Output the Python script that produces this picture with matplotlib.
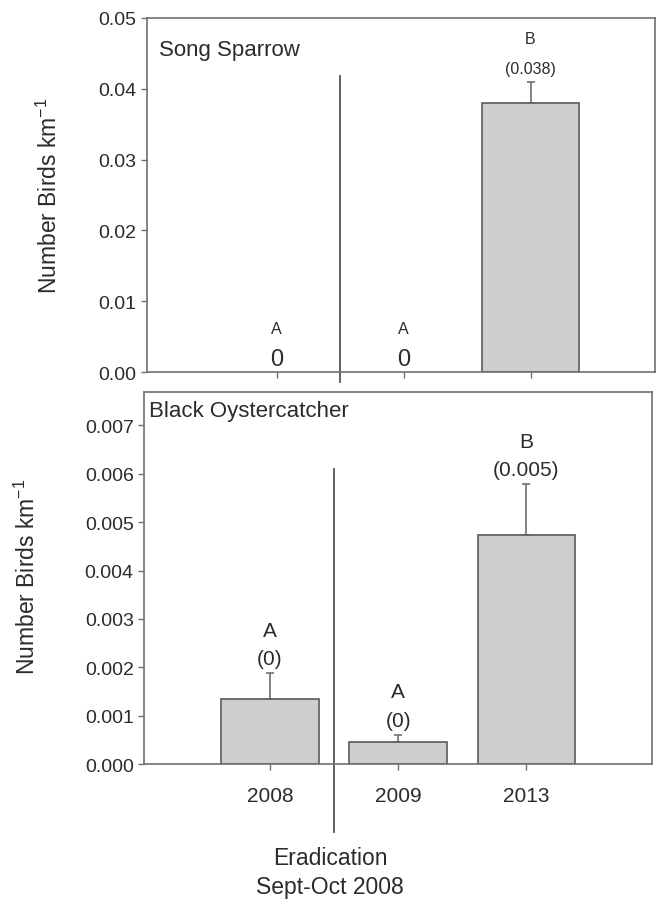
import numpy as np
import matplotlib
matplotlib.use("Agg")
import matplotlib.pyplot as plt
import matplotlib.transforms as mtransforms

plt.rcParams['font.family'] = ['Liberation Sans', 'DejaVu Sans']

# Datos
anios = ["2008", "2009", "2013"]

sparrow_media = [0.0, 0.0, 0.038]
sparrow_err = [0.0, 0.0, 0.003]
sparrow_letras = ["A", "A", "B"]
sparrow_etiquetas = ["0", "0", "(0.038)"]

oyster_media = [0.00134, 0.00045, 0.00473]
oyster_err = [0.00054, 0.00015, 0.00105]
oyster_letras = ["A", "A", "B"]
oyster_etiquetas = ["(0)", "(0)", "(0.005)"]

sparrow_ticks = [0.00, 0.01, 0.02, 0.03, 0.04, 0.05]
oyster_ticks = [0.000, 0.001, 0.002, 0.003, 0.004, 0.005, 0.006, 0.007]

gris_barra = "#cfcfcf"
gris_borde = "#5a5a5a"
gris_linea = "#707070"
texto = "#2b2b2b"
etiqueta_y = "Number Birds km$^{\\mathregular{-1}}$"

fig = plt.figure(figsize=(6.58, 9.03), dpi=100)
ax1 = fig.add_axes([0.2234, 0.5869, 0.772, 0.3921])
ax2 = fig.add_axes([0.2190, 0.1528, 0.772, 0.4120])

x = np.arange(len(anios))


def estilo(ax):
    for s in ax.spines.values():
        s.set_color(gris_linea)
        s.set_linewidth(1.2)
    ax.tick_params(axis='both', colors=gris_linea, labelcolor=texto,
                   direction='out', length=4, width=1)


# --- Song Sparrow ---
# las barras con valor 0 no se dibujan (sin borde)
anchos_borde = [1.2 if v > 0 else 0 for v in sparrow_media]
ax1.bar(x, sparrow_media, width=0.76, color=gris_barra, edgecolor=gris_borde,
        linewidth=anchos_borde, zorder=2)
ax1.errorbar(x[2], sparrow_media[2], yerr=[[0], [sparrow_err[2]]], fmt='none',
             ecolor=gris_linea, elinewidth=1.2, capsize=3, capthick=1.2, zorder=1)
ax1.set_xlim(-1.02, 2.98)
ax1.set_ylim(0, 0.05)
ax1.set_yticks(sparrow_ticks)
ax1.set_yticklabels([f"{t:.2f}" for t in sparrow_ticks], fontsize=14)
ax1.set_xticks(x)
ax1.set_xticklabels([])
estilo(ax1)
ax1.set_ylabel(etiqueta_y, fontsize=16.5, color=texto)
ax1.yaxis.set_label_coords(-0.167, 0.5)
ax1.text(0.024, 0.912, "Song Sparrow", transform=ax1.transAxes, fontsize=16,
         color=texto, ha='left', va='center')
for i in range(len(anios)):
    tope = sparrow_media[i] + sparrow_err[i]
    grande = sparrow_etiquetas[i] == "0"
    ax1.annotate(sparrow_etiquetas[i], (x[i], tope), xytext=(0, 9.5),
                 textcoords='offset points', ha='center', va='center',
                 fontsize=17 if grande else 11.5, color=texto)
    ax1.annotate(sparrow_letras[i], (x[i], tope), xytext=(0, 31),
                 textcoords='offset points', ha='center', va='center',
                 fontsize=11.5, color=texto)
ax1.axvline(0.5, ymin=-0.028, ymax=0.836, color="#555555", lw=1.3, clip_on=False)

# --- Black Oystercatcher ---
ax2.bar(x, oyster_media, width=0.76, color=gris_barra, edgecolor=gris_borde,
        linewidth=1.2, zorder=2)
ax2.errorbar(x, oyster_media, yerr=[np.zeros(3), oyster_err], fmt='none',
             ecolor=gris_linea, elinewidth=1.2, capsize=3, capthick=1.2, zorder=1)
ax2.set_xlim(-0.98, 2.98)
ax2.set_ylim(0, 0.00769)
ax2.set_yticks(oyster_ticks)
ax2.set_yticklabels([f"{t:.3f}" for t in oyster_ticks], fontsize=14)
ax2.set_xticks(x)
ax2.set_xticklabels(anios, fontsize=15)
estilo(ax2)
ax2.tick_params(axis='x', pad=12)
ax2.set_ylabel(etiqueta_y, fontsize=16.5, color=texto)
ax2.yaxis.set_label_coords(-0.205, 0.505)
ax2.text(0.01, 0.949, "Black Oystercatcher", transform=ax2.transAxes,
         fontsize=16, color=texto, ha='left', va='center')
for i in range(len(anios)):
    tope = oyster_media[i] + oyster_err[i]
    ax2.annotate(oyster_etiquetas[i], (x[i], tope), xytext=(0, 10.5),
                 textcoords='offset points', ha='center', va='center',
                 fontsize=15, color=texto)
    ax2.annotate(oyster_letras[i], (x[i], tope), xytext=(0, 31),
                 textcoords='offset points', ha='center', va='center',
                 fontsize=15, color=texto)
ax2.axvline(0.5, ymin=-0.183, ymax=0.793, color="#555555", lw=1.3, clip_on=False)

trans = mtransforms.blended_transform_factory(ax2.transData, ax2.transAxes)
ax2.text(0.47, -0.29, "Eradication\nSept-Oct 2008", transform=trans,
         ha='center', va='center', fontsize=16.5, color=texto, linespacing=1.3)

fig.savefig("out.png", dpi=100)
